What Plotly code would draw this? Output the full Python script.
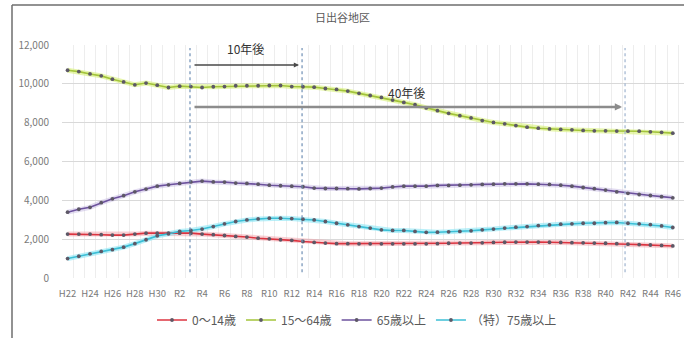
import plotly.graph_objects as go

# Population projection for the 日出谷 district, H22 (2010) to R46 (2064)
years = list(range(2010, 2065))

age_0_14 = [2260, 2260, 2260, 2230, 2210, 2210, 2260, 2310, 2310, 2310,
            2310, 2310, 2260, 2230, 2190, 2140, 2110, 2050, 2020, 1970,
            1940, 1880, 1830, 1800, 1770, 1770, 1760, 1760, 1760, 1760,
            1760, 1760, 1760, 1770, 1790, 1800, 1800, 1810, 1830, 1840,
            1850, 1850, 1850, 1840, 1830, 1820, 1810, 1800, 1790, 1770,
            1740, 1720, 1700, 1680, 1650]

age_15_64 = [10700, 10630, 10510, 10410, 10240, 10100, 9950, 10040, 9930, 9810,
             9880, 9860, 9810, 9850, 9860, 9900, 9900, 9900, 9915, 9915,
             9860, 9850, 9830, 9760, 9710, 9625, 9510, 9400, 9300, 9165,
             9045, 8925, 8760, 8620, 8480, 8360, 8245, 8110, 8010, 7940,
             7850, 7770, 7715, 7680, 7650, 7630, 7600, 7580, 7580, 7565,
             7560, 7560, 7530, 7500, 7460]

age_65_plus = [3390, 3540, 3640, 3880, 4080, 4240, 4440, 4580, 4730, 4800,
               4870, 4950, 4990, 4950, 4940, 4890, 4870, 4830, 4780, 4750,
               4730, 4700, 4630, 4610, 4610, 4600, 4590, 4610, 4630, 4690,
               4730, 4730, 4730, 4770, 4770, 4780, 4800, 4820, 4830, 4850,
               4850, 4850, 4830, 4820, 4780, 4730, 4660, 4600, 4530, 4440,
               4360, 4300, 4250, 4190, 4130]

age_75_plus = [1000, 1120, 1240, 1370, 1460, 1590, 1770, 1970, 2170, 2280,
               2400, 2450, 2520, 2650, 2790, 2910, 2990, 3040, 3080, 3080,
               3060, 3030, 2990, 2910, 2820, 2740, 2650, 2570, 2480, 2450,
               2450, 2400, 2350, 2360, 2380, 2400, 2430, 2480, 2520, 2570,
               2620, 2650, 2700, 2740, 2770, 2790, 2820, 2820, 2850, 2860,
               2820, 2790, 2750, 2680, 2600]

tick_years = list(range(2010, 2065, 2))
tick_labels = ["H22", "H24", "H26", "H28", "H30", "R2", "R4", "R6", "R8", "R10",
               "R12", "R14", "R16", "R18", "R20", "R22", "R24", "R26", "R28", "R30",
               "R32", "R34", "R36", "R38", "R40", "R42", "R44", "R46"]

series_names = ["0～14歳", "15～64歳", "65歳以上", "（特）75歳以上"]
series_values = [age_0_14, age_15_64, age_65_plus, age_75_plus]
line_colors = ["#dc3440", "#a3c43a", "#6d529e", "#3cbfd6"]
glow_colors = ["rgba(240,150,160,0.45)", "rgba(215,240,120,0.6)",
               "rgba(185,170,220,0.4)", "rgba(140,230,245,0.6)"]

# reference lines: base year, 10 years on, 40 years on
guide_years = [2020.92, 2030.92, 2059.74]
arrow_start = 2021.19
arrow_10_end = 2030.65
arrow_40_end = 2059.47
arrow_10_level = 10970
arrow_40_level = 8810

FONT = "Noto Sans CJK JP"
W, H = 684, 338

fig = go.Figure()

# soft halo under each line
for vals, glow in zip(series_values, glow_colors):
    fig.add_trace(go.Scatter(x=years, y=vals, mode="lines",
                             line=dict(color=glow, width=5),
                             hoverinfo="skip", showlegend=False))

for name, vals, color in zip(series_names, series_values, line_colors):
    fig.add_trace(go.Scatter(x=years, y=vals, name=name, mode="lines+markers",
                             line=dict(color=color, width=1.6),
                             marker=dict(color="#5d5866", size=3.8)))

# dotted guide lines
for gx, gc in zip(guide_years, ["#6f8fb5", "#6f8fb5", "#9fb4cf"]):
    fig.add_shape(type="line", xref="x", yref="y", x0=gx, x1=gx, y0=300, y1=11850,
                  line=dict(color=gc, width=1.2, dash="dot"), layer="above")

# arrows
fig.add_annotation(x=arrow_10_end, y=arrow_10_level, ax=arrow_start, ay=arrow_10_level,
                   xref="x", yref="y", axref="x", ayref="y", text="", showarrow=True,
                   arrowhead=2, arrowsize=0.8, arrowwidth=1.3, arrowcolor="#4a4a4a")
fig.add_annotation(x=arrow_40_end, y=arrow_40_level, ax=arrow_start, ay=arrow_40_level,
                   xref="x", yref="y", axref="x", ayref="y", text="", showarrow=True,
                   arrowhead=2, arrowsize=0.6, arrowwidth=2.4, arrowcolor="#8c8c8c")
fig.add_annotation(x=2025.83, y=11800, xref="x", yref="y", text="10年後", showarrow=False,
                   font=dict(family=FONT, size=12, color="#333333"))
fig.add_annotation(x=2040.28, y=9540, xref="x", yref="y", text="40年後", showarrow=False,
                   font=dict(family=FONT, size=12, color="#333333"))

# title
fig.add_annotation(x=342 / W, y=1 - 17 / H, xref="paper", yref="paper", text="日出谷地区",
                   xanchor="center", yanchor="middle", showarrow=False,
                   font=dict(family=FONT, size=11, color="#595959"))

# frame edges
fig.add_shape(type="line", xref="paper", yref="paper", x0=12 / W, x1=1, y0=1 - 5 / H, y1=1 - 5 / H,
              line=dict(color="#6e6e6e", width=1.5))
fig.add_shape(type="line", xref="paper", yref="paper", x0=12 / W, x1=12 / W, y0=0, y1=1 - 5 / H,
              line=dict(color="#6e6e6e", width=1.5))

fig.update_layout(
    width=W, height=H,
    margin=dict(l=0, r=0, t=0, b=0, autoexpand=False),
    paper_bgcolor="white", plot_bgcolor="white",
    font=dict(family=FONT, color="#595959"),
    showlegend=True,
    legend=dict(orientation="h", x=357 / W, xanchor="center", y=1 - 320 / H, yanchor="middle",
                font=dict(family=FONT, size=12, color="#595959"), itemwidth=30,
                bgcolor="rgba(0,0,0,0)", tracegroupgap=0),
    xaxis=dict(domain=[62 / W, 1], range=[2009.5, 2065.0], tickmode="array",
               tickvals=tick_years, ticktext=tick_labels, showgrid=False, automargin=False,
               ticklabeloverflow="allow",
               minor=dict(dtick=1, tick0=2009.5, showgrid=True, gridcolor="#ededed", gridwidth=1),
               tickfont=dict(family=FONT, size=9.5, color="#7a7a7a"), ticks="",
               zeroline=False, showline=False, ticklabelstandoff=8),
    yaxis=dict(domain=[1 - 278 / H, 1 - 45 / H], range=[0, 12000], dtick=2000,
               tickformat=",d", showgrid=True, gridcolor="#d9d9d9", gridwidth=1,
               zeroline=False, showline=False, ticks="", automargin=False,
               tickfont=dict(family=FONT, size=10, color="#7a7a7a"), ticklabelstandoff=12),
)

fig.write_html("out.html")
